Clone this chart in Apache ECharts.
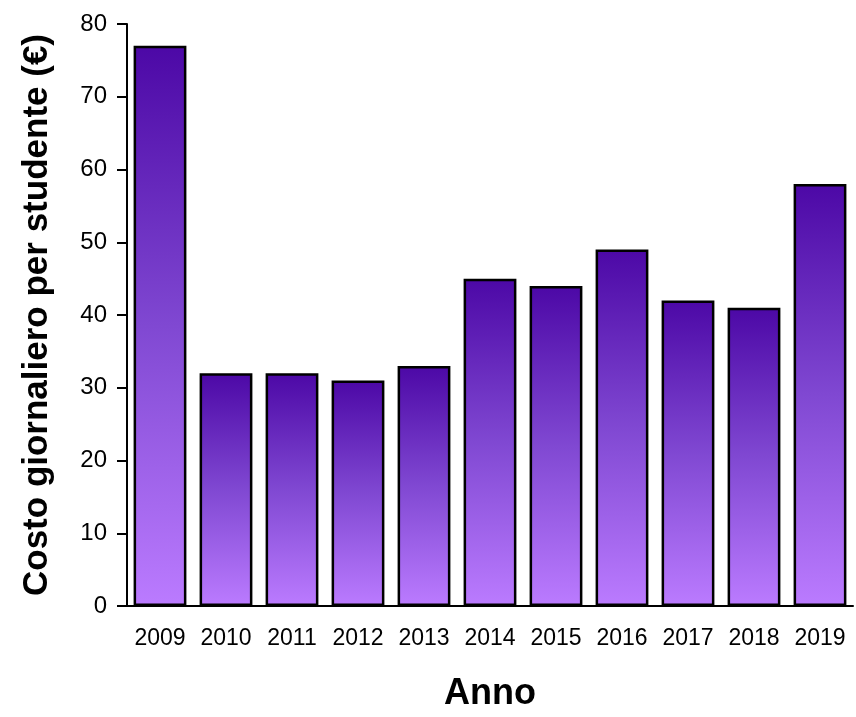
<!DOCTYPE html>
<html>
<head>
<meta charset="utf-8">
<script src="https://cdn.jsdelivr.net/npm/echarts@6/dist/echarts.min.js"></script>
<style>html,body{margin:0;padding:0;background:#fff;}#c{width:856px;height:717px;}</style>
</head>
<body>
<div id="c"></div>
<script>
const categories = ['2009','2010','2011','2012','2013','2014','2015','2016','2017','2018','2019'];
const costs = [77, 32, 32, 31, 33, 45, 44, 49, 42, 41, 58];
const yTicks = { min: 0, max: 80, interval: 10 };

const chart = echarts.init(document.getElementById('c'), null, { renderer: 'canvas' });
const font = '"Liberation Sans", Arial, sans-serif';
chart.setOption({
  backgroundColor: '#ffffff',
  animation: false,
  grid: { left: 127, right: 3, top: 24, bottom: 109, containLabel: false },
  xAxis: {
    type: 'category',
    data: categories,
    name: 'Anno',
    nameLocation: 'middle',
    nameGap: 70,
    nameTextStyle: { fontFamily: font, fontSize: 36, fontWeight: 'bold', color: '#000', letterSpacing: -3 },
    axisLine: { lineStyle: { color: '#000', width: 2 } },
    axisTick: { alignWithLabel: true, length: 10, lineStyle: { color: '#000', width: 2 } },
    axisLabel: { fontFamily: font, fontSize: 23, color: '#000', margin: 21, interval: 0, hideOverlap: false },
    splitLine: { show: false }
  },
  yAxis: {
    type: 'value',
    min: yTicks.min, max: yTicks.max, interval: yTicks.interval,
    name: 'Costo giornaliero per studente (€)',
    nameLocation: 'middle',
    nameGap: 72,
    nameTextStyle: { fontFamily: font, fontSize: 35, fontWeight: 'bold', color: '#000', letterSpacing: -0.3 },
    axisLine: { show: true, lineStyle: { color: '#000', width: 2 } },
    axisTick: { show: true, length: 10, lineStyle: { color: '#000', width: 2 } },
    axisLabel: { fontFamily: font, fontSize: 24, color: '#000', margin: 20 },
    splitLine: { show: false }
  },
  series: [{
    type: 'bar',
    data: costs,
    barCategoryGap: '20%',
    itemStyle: {
      borderColor: '#000',
      borderWidth: 2.5,
      color: new echarts.graphic.LinearGradient(0, 0, 0, 1, [
        { offset: 0, color: '#4c08a6' },
        { offset: 0.5, color: '#8048d2' },
        { offset: 1, color: '#bb7bff' }
      ])
    }
  }]
});
</script>
</body>
</html>
